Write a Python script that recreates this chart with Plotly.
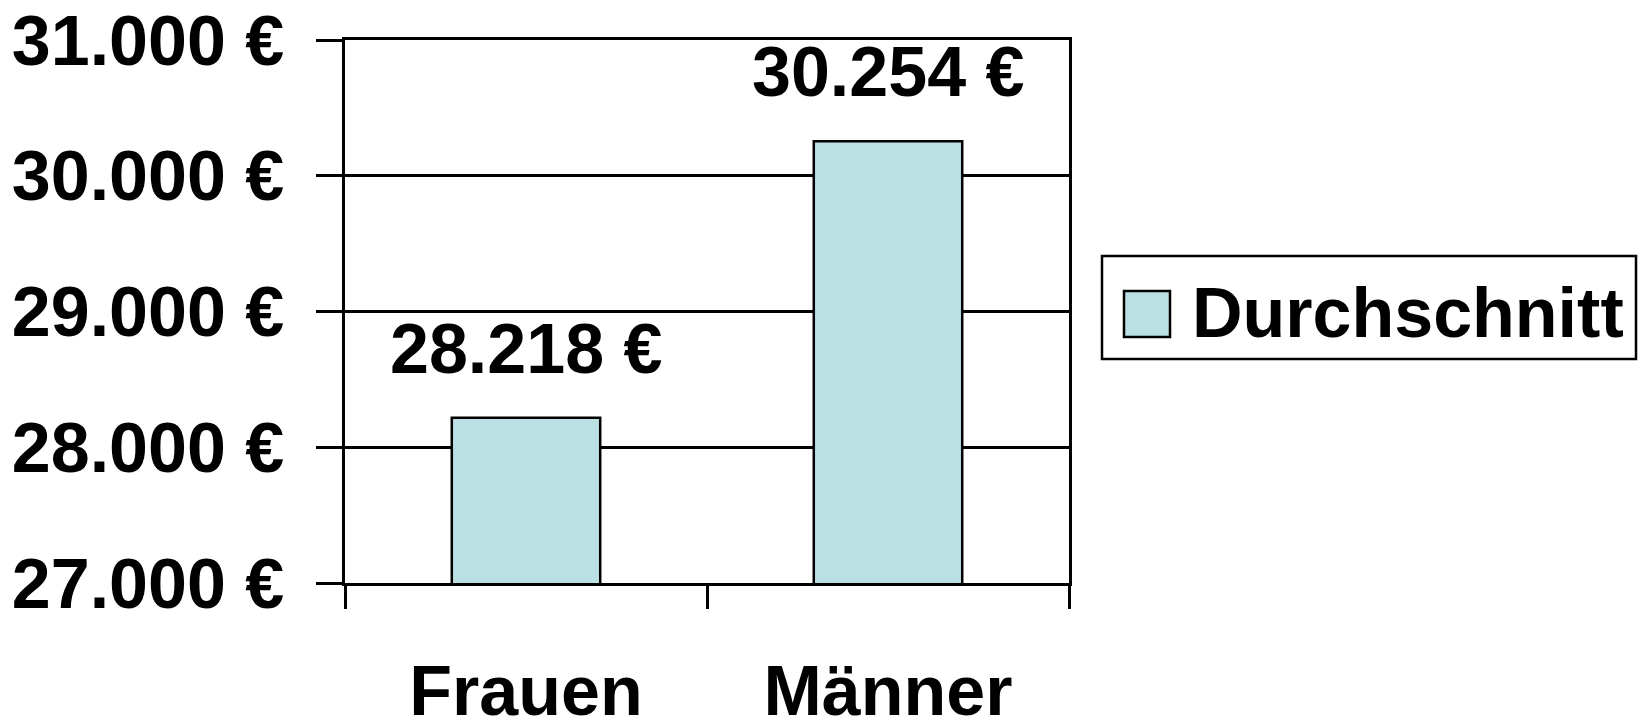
import plotly.graph_objects as go

# data
kategorien = ["Frauen", "Männer"]
durchschnitt = [28218, 30254]
y_ticks = [27000, 28000, 29000, 30000, 31000]
serie_name = "Durchschnitt"


def euro(v):
    return f"{v:,.0f} €".replace(",", ".")


FONT = dict(family="Arial, Liberation Sans, sans-serif", size=70, color="black", weight="bold")
BAR_COLOR = "#BBE0E3"

W, H = 1638, 720
L, R, T, B = 345, 1069, 40, 583  # plot area in pixels


def px_x(p):
    return (p - L) / (R - L)


def px_y(p):
    return (B - p) / (B - T)


fig = go.Figure()
fig.add_trace(go.Bar(
    x=kategorien,
    y=durchschnitt,
    name=serie_name,
    width=0.41,
    marker=dict(color=BAR_COLOR, line=dict(color="black", width=2.5)),
    showlegend=False,
))

for k, v in zip(kategorien, durchschnitt):
    fig.add_annotation(x=k, y=v, text=euro(v), showarrow=False,
                       yanchor="bottom", yshift=28, font=FONT)

# legend drawn by hand (bar legend symbols in plotly cannot be enlarged)
fig.add_shape(type="rect", xref="paper", yref="paper",
              x0=px_x(1102), x1=px_x(1636), y0=px_y(359), y1=px_y(256),
              line=dict(color="black", width=2.5), fillcolor="white")
fig.add_shape(type="rect", xref="paper", yref="paper",
              x0=px_x(1124), x1=px_x(1170), y0=px_y(337), y1=px_y(291),
              line=dict(color="black", width=2.5), fillcolor=BAR_COLOR)
fig.add_annotation(xref="paper", yref="paper", x=px_x(1190), y=px_y(313),
                   xanchor="left", yanchor="middle", text=serie_name,
                   showarrow=False, font=FONT)

fig.update_layout(
    width=W, height=H,
    margin=dict(l=L, r=W - R, t=T, b=H - B, pad=0, autoexpand=False),
    plot_bgcolor="white", paper_bgcolor="white",
    font=FONT,
)
fig.update_yaxes(
    range=[y_ticks[0], y_ticks[-1]], automargin=False,
    tickvals=y_ticks, ticktext=[euro(v) for v in y_ticks],
    ticklabeloverflow="allow",
    showgrid=True, gridcolor="black", gridwidth=2.5,
    showline=True, linecolor="black", linewidth=2.5, mirror=True,
    ticks="outside", ticklen=26, tickwidth=2.5, tickcolor="black",
    ticklabelstandoff=18, zeroline=False,
)
fig.update_xaxes(
    automargin=False, ticklabeloverflow="allow",
    showline=True, linecolor="black", linewidth=2.5, mirror=True,
    ticks="outside", tickson="boundaries", ticklen=23, tickwidth=2.5, tickcolor="black",
    ticklabelstandoff=45,
)

# drop the default 8px body margin so the figure fills the window exactly
fig.write_html("out.html", config={"displayModeBar": False},
               post_script="document.body.style.margin='0';"
                           "document.body.style.overflow='hidden';")
